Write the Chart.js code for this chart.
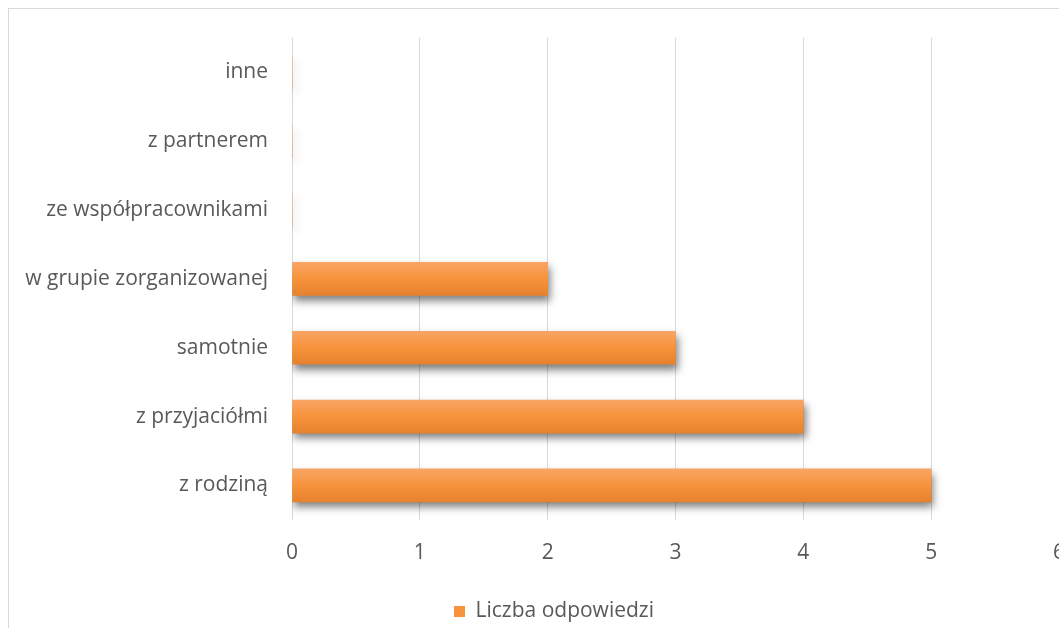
<!DOCTYPE html>
<html>
<head>
<meta charset="utf-8">
<script src="https://cdn.jsdelivr.net/npm/chart.js@4.4.1/dist/chart.umd.min.js"></script>
<style>
    html, body { margin: 0; padding: 0; background: #fff; overflow: hidden; width: 1059px; height: 628px; }
    #frame { position: absolute; left: 8px; top: 8px; width: 1200px; height: 800px; border: 1px solid #d9d9d9; }
    #wrap { position: absolute; left: 9px; top: 9px; width: 1090px; height: 623px; }
</style>
</head>
<body>
<div id="frame"></div>
<div id="wrap"><canvas id="chart"></canvas></div>
<script>
// ── Data ──

const CATEGORIES = [
    "inne",
    "z partnerem",
    "ze współpracownikami",
    "w grupie zorganizowanej",
    "samotnie",
    "z przyjaciółmi",
    "z rodziną",
];
const ANSWERS = [0, 0, 0, 2, 3, 4, 5];
const SERIES_LABEL = "Liczba odpowiedzi";
const X_TICKS = [0, 1, 2, 3, 4, 5, 6];

const TEXT_COLOR = "#595959";
const GRID_COLOR = "#d9d9d9";
const FONT = { family: "'Open Sans', 'Liberation Sans', sans-serif", size: 21 };
const BAR_THICKNESS = 33;

// vertical gradient per bar, built around the category center
function barGradient(ctx) {
    const chart = ctx.chart;
    const yScale = chart.scales.y;
    if (!yScale || ctx.dataIndex === undefined) return "#F7933B";
    const cy = yScale.getPixelForValue(ctx.dataIndex);
    const g = chart.ctx.createLinearGradient(0, cy - BAR_THICKNESS / 2, 0, cy + BAR_THICKNESS / 2);
    g.addColorStop(0, "#F9A466");
    g.addColorStop(0.5, "#F7933B");
    g.addColorStop(1, "#E6812D");
    return g;
}

// soft drop shadow under the bars
const barShadow = {
    id: "barShadow",
    beforeDatasetsDraw(chart) {
        const c = chart.ctx;
        c.save();
        c.shadowColor = "rgba(0,0,0,0.5)";
        c.shadowBlur = 8;
        c.shadowOffsetX = 2;
        c.shadowOffsetY = 5;
    },
    afterDatasetsDraw(chart) {
        chart.ctx.restore();
    },
};

// legend sits a little right of the canvas center
const legendShift = {
    id: "legendShift",
    afterLayout(chart) {
        chart.legend.left += 20;
        chart.legend.right += 20;
    },
};

new Chart(document.getElementById("chart"), {
    type: "bar",
    data: {
        labels: CATEGORIES,
        datasets: [{
            label: SERIES_LABEL,
            data: ANSWERS,
            backgroundColor: barGradient,
            borderWidth: 0,
            barThickness: BAR_THICKNESS,
        }],
    },
    plugins: [barShadow, legendShift],
    options: {
        indexAxis: "y",
        responsive: true,
        maintainAspectRatio: false,
        animation: false,
        layout: { padding: { top: 29, right: 40, bottom: 0, left: 0 } },
        plugins: {
            legend: {
                position: "bottom",
                labels: {
                    color: TEXT_COLOR,
                    font: FONT,
                    boxWidth: 11,
                    boxHeight: 11,
                    padding: 10,
                    generateLabels(chart) {
                        return [{
                            text: SERIES_LABEL,
                            fillStyle: "#F7933B",
                            strokeStyle: "#F7933B",
                            lineWidth: 0,
                            fontColor: TEXT_COLOR,
                            datasetIndex: 0,
                        }];
                    },
                },
            },
            tooltip: { enabled: false },
        },
        scales: {
            x: {
                min: X_TICKS[0],
                max: X_TICKS[X_TICKS.length - 1],
                afterBuildTicks(scale) { scale.ticks = X_TICKS.map(v => ({ value: v })); },
                afterFit(scale) { scale.height += 4; },
                grid: { color: GRID_COLOR, lineWidth: 1, drawTicks: false },
                border: { display: false },
                ticks: { color: TEXT_COLOR, font: FONT, padding: 21, maxRotation: 0 },
            },
            y: {
                afterFit(scale) {
                    scale.width = 283;
                    scale.paddingTop = 0;
                    scale.paddingBottom = 0;
                },
                grid: { display: false, drawTicks: false },
                border: { display: false },
                ticks: { color: TEXT_COLOR, font: FONT, padding: 24, autoSkip: false },
            },
        },
    },
});
</script>
</body>
</html>
